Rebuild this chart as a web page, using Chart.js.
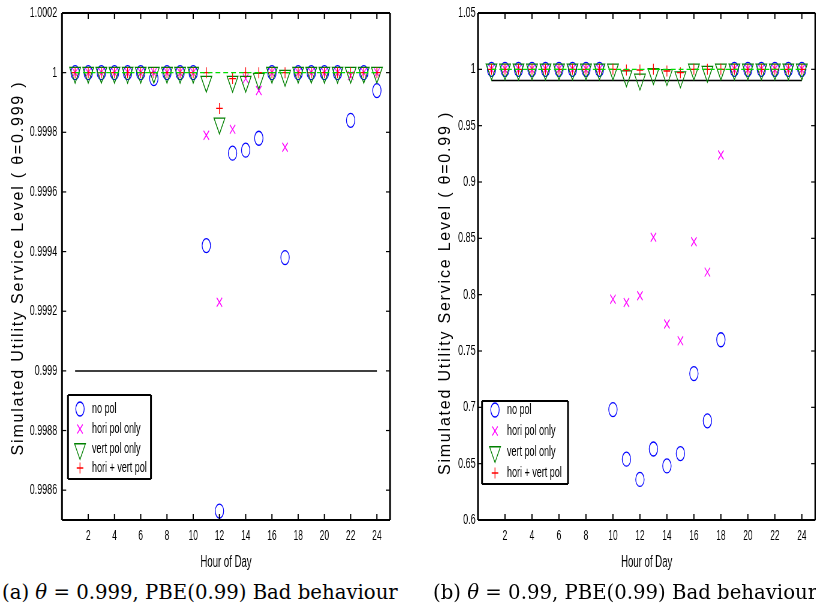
<!DOCTYPE html>
<html>
<head>
<meta charset="utf-8">
<script src="https://cdn.jsdelivr.net/npm/chart.js@4.4.1/dist/chart.umd.min.js"></script>
<style>
  html, body { margin: 0; padding: 0; background: #fff; width: 816px; height: 609px; overflow: hidden; position: relative; }
  /* MATLAB export is squeezed sideways, so both canvases are drawn wide and squashed */
  canvas { position: absolute; top: 0; transform-origin: 0 0; transform: scaleX(0.6); }
  #chartA { left: 0; }
  #chartB { left: 400px; }
  .ylab { position: absolute; width: 460px; height: 20px; line-height: 20px; text-align: center;
          font: 16px "Liberation Sans", Arial, sans-serif; letter-spacing: 1.8px; color: #000;
          transform: rotate(-90deg); white-space: nowrap; }
  .cap { position: absolute; top: 581px; font: 19.7px "DejaVu Serif", serif; white-space: nowrap; color: #000; }
</style>
</head>
<body>
<canvas id="chartA" width="667" height="580"></canvas>
<!-- wider than 694 because Chart.js keeps ~12px free for the big triangle markers -->
<canvas id="chartB" width="704" height="580"></canvas>
<div class="ylab" style="left:-211px; top:258px;">Simulated Utility Service Level ( θ=0.999 )</div>
<div class="ylab" style="left:216px; top:283px;">Simulated Utility Service Level ( θ=0.99 )</div>
<div class="cap" style="left:2px;">(a) <i>θ</i> = 0.999, PBE(0.99) Bad behaviour</div>
<div class="cap" style="left:433px;">(b) <i>θ</i> = 0.99, PBE(0.99) Bad behaviour</div>

<script>
// Data
const hours = [1, 2, 3, 4, 5, 6, 7, 8, 9, 10, 11, 12, 13, 14, 15, 16, 17, 18, 19, 20, 21, 22, 23, 24];
const xTicks = [2, 4, 6, 8, 10, 12, 14, 16, 18, 20, 22, 24];
const lineEnds = [1, 24];
const fullService = 1;
const seriesNames = ['no pol', 'hori pol only', 'vert pol only', 'hori + vert pol'];

// (a) theta = 0.999
const targetA = 0.999;
const yTicksA = [0.9986, 0.9988, 0.999, 0.9992, 0.9994, 0.9996, 0.9998, 1, 1.0002];
const noPolA = [1, 1, 1, 1, 1, 1, 0.99998, 1, 1, 1, 0.99942, 0.99853, 0.99973, 0.99974, 0.99978, 1, 0.99938, 1, 1, 1, 1, 0.99984, 1, 0.99994];
const horiA  = [1, 1, 1, 1, 1, 1, 1, 1, 1, 1, 0.99979, 0.99923, 0.99981, 0.99998, 0.99994, 1, 0.99975, 1, 1, 1, 1, 0.99999, 1, 1];
const vertA  = [1, 1, 1, 1, 1, 1, 1, 1, 1, 1, 0.99997, 0.99983, 0.99997, 0.99997, 0.99998, 1, 0.99999, 1, 1, 1, 1, 1, 1, 1];
const bothA  = [1, 1, 1, 1, 1, 1, 1, 1, 1, 1, 1, 0.99988, 0.99998, 1, 1, 1, 1, 1, 1, 1, 1, 1, 1, 1];

// (b) theta = 0.99
const targetB = 0.99;
const yTicksB = [0.6, 0.65, 0.7, 0.75, 0.8, 0.85, 0.9, 0.95, 1, 1.05];
const noPolB = [1, 1, 1, 1, 1, 1, 1, 1, 1, 0.698, 0.654, 0.636, 0.663, 0.648, 0.659, 0.730, 0.688, 0.760, 1, 1, 1, 1, 1, 1];
const horiB  = [1, 1, 1, 1, 1, 1, 1, 1, 1, 0.796, 0.793, 0.799, 0.851, 0.774, 0.759, 0.847, 0.820, 0.924, 1, 1, 1, 1, 1, 1];
const vertB  = [1, 1, 1, 1, 1, 1, 1, 1, 1, 1, 0.994, 0.991, 0.996, 0.995, 0.993, 1, 0.998, 1, 1, 1, 1, 1, 1, 1];
const bothB  = [1, 1, 1, 1, 1, 1, 1, 1, 1, 1, 0.9994, 0.9994, 1, 0.9985, 0.997, 1, 1, 1, 1, 1, 1, 1, 1, 1];

const FONT = '"Liberation Sans", Arial, sans-serif';
Chart.defaults.font.family = FONT;
Chart.defaults.color = '#000';

const markers = [
  {pointStyle: 'circle',   radius: 7,   rotation: 0,   color: '#0000ff'},
  {pointStyle: 'crossRot', radius: 6.4, rotation: 0,   color: '#ff00ff'},
  {pointStyle: 'triangle', radius: 10.5, rotation: 180, color: '#008000'},
  {pointStyle: 'cross',    radius: 5.5, rotation: 0,   color: '#ff0000'}
];

function points(ys) {
  return hours.map((h, i) => ({x: h, y: ys[i]}));
}

function buildDatasets(series, target) {
  let sets = series.map((ys, i) => ({
    label: seriesNames[i],
    data: points(ys),
    pointStyle: markers[i].pointStyle,
    pointRadius: markers[i].radius,
    pointRotation: markers[i].rotation,
    pointBorderColor: markers[i].color,
    pointBackgroundColor: 'rgba(0,0,0,0)',
    pointBorderWidth: 1.3,
    showLine: false,
    order: 10 - i
  }));
  sets.push({
    label: 'full',
    data: lineEnds.map(h => ({x: h, y: fullService})),
    showLine: true, pointRadius: 0, borderColor: '#00dd00', borderWidth: 1.3,
    borderDash: [8, 5], order: 1
  });
  sets.push({
    label: 'target',
    data: lineEnds.map(h => ({x: h, y: target})),
    showLine: true, pointRadius: 0, borderColor: '#000', borderWidth: 1.5, order: 20
  });
  return sets;
}

// Box, inward ticks on all four sides and the boxed legend
const framePlugin = {
  id: 'frame',
  afterDraw(chart, args, opts) {
    const {ctx, chartArea: a, scales: {x, y}} = chart;
    const seg = (x1, y1, x2, y2) => { ctx.beginPath(); ctx.moveTo(x1, y1); ctx.lineTo(x2, y2); ctx.stroke(); };
    ctx.save();
    ctx.strokeStyle = '#000';
    ctx.lineWidth = 2;
    x.ticks.forEach(t => {
      const px = x.getPixelForValue(t.value);
      seg(px, a.bottom, px, a.bottom - 6);
      seg(px, a.top, px, a.top + 6);
    });
    ctx.lineWidth = 1.2;
    y.ticks.forEach(t => {
      const py = y.getPixelForValue(t.value);
      seg(a.left, py, a.left + 7, py);
      seg(a.right, py, a.right - 7, py);
    });
    ctx.lineWidth = 1.8;
    seg(a.left, a.top, a.right, a.top);
    seg(a.left, a.bottom, a.right, a.bottom);
    ctx.lineWidth = 3;
    seg(a.left, a.top, a.left, a.bottom);
    seg(a.right, a.top, a.right, a.bottom);

    // legend
    const lg = opts.legend;
    ctx.fillStyle = '#fff';
    ctx.fillRect(lg.left, lg.top, lg.width, lg.height);
    ctx.lineWidth = 2;
    seg(lg.left, lg.top, lg.left + lg.width, lg.top);
    seg(lg.left, lg.top + lg.height, lg.left + lg.width, lg.top + lg.height);
    ctx.lineWidth = 3;
    seg(lg.left, lg.top, lg.left, lg.top + lg.height);
    seg(lg.left + lg.width, lg.top, lg.left + lg.width, lg.top + lg.height);
    ctx.font = '15px ' + FONT;
    ctx.textBaseline = 'middle';
    ctx.textAlign = 'left';
    seriesNames.forEach((name, i) => {
      const m = markers[i];
      const ry = lg.rows[i];
      ctx.strokeStyle = m.color;
      ctx.fillStyle = 'rgba(0,0,0,0)';
      ctx.lineWidth = 1.3;
      Chart.helpers.drawPoint(ctx, {pointStyle: m.pointStyle, rotation: m.rotation, radius: m.radius, borderWidth: 1.3}, lg.markerX, ry);
      ctx.fillStyle = '#000';
      ctx.fillText(name, lg.textX, ry);
    });
    ctx.restore();
  }
};

function makeChart(id, series, target, yTicks, yMin, yMax, yAxisWidth, yPad, rightPad, legend) {
  return new Chart(document.getElementById(id), {
    type: 'scatter',
    data: {datasets: buildDatasets(series, target)},
    options: {
      responsive: false,
      animation: false,
      events: [],
      layout: {padding: {left: 0, right: rightPad, top: 13, bottom: 0}},
      plugins: {legend: {display: false}, tooltip: {enabled: false}, frame: {legend: legend}},
      scales: {
        x: {
          type: 'linear', min: 0, max: 25,
          afterFit(s) { s.height = 60; s.paddingLeft = 0; s.paddingRight = 0; },
          afterBuildTicks(s) { s.ticks = xTicks.map(v => ({value: v})); },
          grid: {display: false, drawTicks: false},
          border: {display: false},
          ticks: {padding: 8, autoSkip: false, maxRotation: 0, font: {size: 14}, color: '#000'},
          title: {display: true, text: 'Hour of Day', font: {size: 16}, color: '#000', padding: {top: 0, bottom: 8}}
        },
        y: {
          type: 'linear', min: yMin, max: yMax,
          afterFit(s) { s.width = yAxisWidth; s.paddingTop = 0; s.paddingBottom = 0; },
          afterBuildTicks(s) { s.ticks = yTicks.map(v => ({value: v})); },
          grid: {display: false, drawTicks: false},
          border: {display: false},
          ticks: {padding: yPad, font: {size: 15}, color: '#000', callback: v => String(v)}
        }
      }
    },
    plugins: [framePlugin]
  });
}

makeChart('chartA', [noPolA, horiA, vertA, bothA], targetA, yTicksA, 0.9985, 1.0002, 103.3, 8, 17,
  {left: 113.3, top: 395, width: 138.3, height: 84, markerX: 133.3, textX: 153.3, rows: [409, 429, 449, 468]});
makeChart('chartB', [noPolB, horiB, vertB, bothB], targetB, yTicksB, 0.6, 1.05, 130, 4, 1.5,
  {left: 136.7, top: 401, width: 143.3, height: 83, markerX: 158.3, textX: 178.3, rows: [410, 431, 452, 473]});
</script>
</body>
</html>
